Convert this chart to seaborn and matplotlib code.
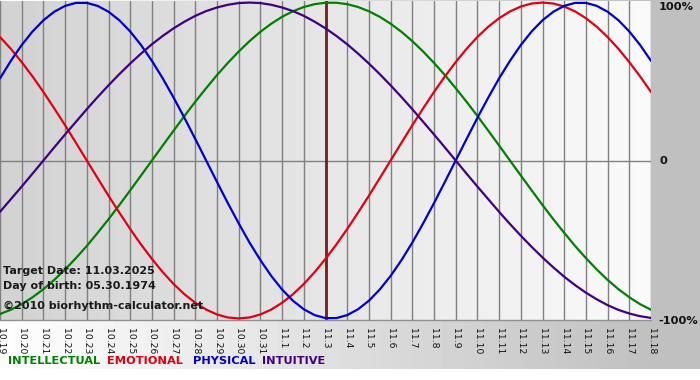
import numpy as np
import pandas as pd
import seaborn as sns
import matplotlib.pyplot as plt

# day labels shown along the x axis
days = ["10.19", "10.20", "10.21", "10.22", "10.23", "10.24", "10.25", "10.26",
        "10.27", "10.28", "10.29", "10.30", "10.31", "11.1", "11.2", "11.3",
        "11.4", "11.5", "11.6", "11.7", "11.8", "11.9", "11.10", "11.11",
        "11.12", "11.13", "11.14", "11.15", "11.16", "11.17", "11.18"]

# cycle values every half day (-1 .. 1), 10.19 -> 11.18
physical = [0.520, 0.631, 0.731, 0.817, 0.888, 0.942, 0.979, 0.998, 0.998, 0.979,
            0.942, 0.888, 0.817, 0.731, 0.631, 0.520, 0.398, 0.270, 0.136, 0.0,
            -0.136, -0.270, -0.398, -0.520, -0.631, -0.731, -0.817, -0.888, -0.942, -0.979,
            -0.998, -0.998, -0.979, -0.942, -0.888, -0.817, -0.731, -0.631, -0.520, -0.398,
            -0.270, -0.136, 0.0, 0.136, 0.270, 0.398, 0.520, 0.631, 0.731, 0.817,
            0.888, 0.942, 0.979, 0.998, 0.998, 0.979, 0.942, 0.888, 0.817, 0.731, 0.631]
emotional = [0.782, 0.707, 0.623, 0.532, 0.434, 0.330, 0.223, 0.112, 0.0, -0.112,
             -0.223, -0.330, -0.434, -0.532, -0.623, -0.707, -0.782, -0.847, -0.901, -0.944,
             -0.975, -0.994, -1.0, -0.994, -0.975, -0.944, -0.901, -0.847, -0.782, -0.707,
             -0.623, -0.532, -0.434, -0.330, -0.223, -0.112, 0.0, 0.112, 0.223, 0.330,
             0.434, 0.532, 0.623, 0.707, 0.782, 0.847, 0.901, 0.944, 0.975, 0.994,
             1.0, 0.994, 0.975, 0.944, 0.901, 0.847, 0.782, 0.707, 0.623, 0.532, 0.434]
intellectual = [-0.972, -0.945, -0.910, -0.866, -0.815, -0.756, -0.690, -0.618, -0.541, -0.458,
                -0.372, -0.282, -0.189, -0.095, 0.0, 0.095, 0.189, 0.282, 0.372, 0.458,
                0.541, 0.618, 0.690, 0.756, 0.815, 0.866, 0.910, 0.945, 0.972, 0.990,
                0.999, 0.999, 0.990, 0.972, 0.945, 0.910, 0.866, 0.815, 0.756, 0.690,
                0.618, 0.541, 0.458, 0.372, 0.282, 0.189, 0.095, 0.0, -0.095, -0.189,
                -0.282, -0.372, -0.458, -0.541, -0.618, -0.690, -0.756, -0.815, -0.866, -0.910, -0.945]
intuitive = [-0.325, -0.245, -0.165, -0.083, 0.0, 0.083, 0.165, 0.245, 0.325, 0.402,
             0.476, 0.547, 0.614, 0.677, 0.736, 0.789, 0.837, 0.879, 0.916, 0.946,
             0.969, 0.986, 0.997, 1.0, 0.997, 0.986, 0.969, 0.946, 0.916, 0.879,
             0.837, 0.789, 0.736, 0.677, 0.614, 0.547, 0.476, 0.402, 0.325, 0.245,
             0.165, 0.083, 0.0, -0.083, -0.165, -0.245, -0.325, -0.402, -0.476, -0.547,
             -0.614, -0.677, -0.736, -0.789, -0.837, -0.879, -0.916, -0.946, -0.969, -0.986, -0.997]

target_day = "11.3"
colors = {"INTELLECTUAL": "#008000", "EMOTIONAL": "#e00010",
          "PHYSICAL": "#0000cc", "INTUITIVE": "#400080"}

rows = []
for name, vals in [("INTELLECTUAL", intellectual), ("EMOTIONAL", emotional),
                   ("PHYSICAL", physical), ("INTUITIVE", intuitive)]:
    for i, v in enumerate(vals):
        rows.append({"day": i / 2, "value": v, "cycle": name})
df = pd.DataFrame(rows)

sns.set_style("white")
fig = plt.figure(figsize=(7, 3.8), dpi=100)

# figure background: white -> gray gradient, white strip at the bottom
bg = fig.add_axes([0, 0, 1, 1])
grad = np.clip(np.linspace(0, 700, 700) / 651, 0, 1)
shade = 1.0 - grad * (1.0 - 0xc0 / 255)
img = np.tile(shade, (380, 1))
img[369:, :] = 1.0
bg.imshow(img, cmap="gray", vmin=0, vmax=1, aspect="auto", extent=(0, 700, 380, 0))
bg.set_axis_off()

ax = fig.add_axes([0, 1 - 320 / 380, 651 / 700, 319 / 380])
ax.imshow(np.linspace(0xd2 / 255, 0xfa / 255, 200).reshape(1, -1), cmap="gray",
          vmin=0, vmax=1, aspect="auto", extent=(0, len(days) - 1, -1.01, 1.01), zorder=0)

for i in range(len(days)):
    ax.axvline(i, color="#808080", lw=1, zorder=1)
ax.axhline(0, color="#808080", lw=1, zorder=1)

sns.lineplot(data=df, x="day", y="value", hue="cycle", palette=colors,
             linewidth=1.6, legend=False, ax=ax, zorder=3)

ax.axvline(days.index(target_day), color="#7a1a1a", lw=2, zorder=2)

ax.set_xlim(0, len(days) - 1)
ax.set_ylim(-1.01, 1.01)
ax.set_xticks(range(len(days)))
ax.set_xticklabels(days, rotation=270, fontsize=6.7, color="#111111")
ax.tick_params(axis="x", length=5, color="#808080", pad=1)
ax.set_yticks([])
ax.set_xlabel("")
ax.set_ylabel("")
for s in ax.spines.values():
    s.set_visible(False)
ax.spines["bottom"].set_visible(True)
ax.spines["bottom"].set_color("#909090")
ax.spines["bottom"].set_linewidth(1)

# right side percent labels
pct = dict(fontsize=8.2, fontweight="bold", color="#111111", va="center", ha="left")
fig.text(659 / 700, 1 - 7 / 380, "100%", **pct)
fig.text(660 / 700, 1 - 161 / 380, "0", **pct)
fig.text(658 / 700, 1 - 321 / 380, "-100%", **pct)

# info text
txt = dict(fontsize=8.0, fontweight="bold", color="#1a1a1a")
fig.text(3 / 700, 1 - 271 / 380, "Target Date: 11.03.2025", va="center", **txt)
fig.text(3 / 700, 1 - 286 / 380, "Day of birth: 05.30.1974", va="center", **txt)
fig.text(3 / 700, 1 - 306 / 380, "\u00a92010 biorhythm-calculator.net", va="center", **txt)

# colored legend line
for name, x0 in [("INTELLECTUAL", 8), ("EMOTIONAL", 107), ("PHYSICAL", 193), ("INTUITIVE", 262)]:
    fig.text(x0 / 700, 1 - 361 / 380, name, color=colors[name], fontsize=8.2,
             fontweight="bold", va="center")

fig.savefig("out.png", dpi=100)
